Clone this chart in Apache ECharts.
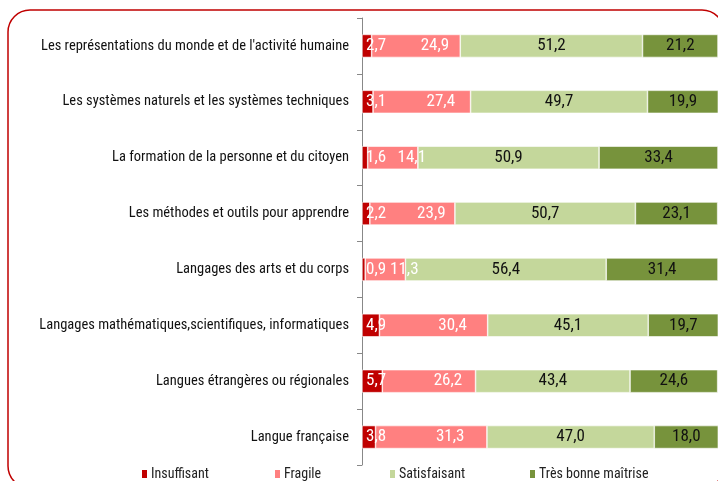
<!DOCTYPE html>
<html>
<head>
<meta charset="utf-8">
<script src="https://cdn.jsdelivr.net/npm/echarts@6/dist/echarts.min.js"></script>
<style>
  html, body { margin: 0; padding: 0; background: #fff; }
  #chart { width: 718px; height: 481px; }
</style>
</head>
<body>
<div id="chart"></div>
<script>
// categories, top to bottom
const categories = [
  "Les représentations du monde et de l'activité humaine",
  'Les systèmes naturels et les systèmes techniques',
  'La formation de la personne et du citoyen',
  'Les méthodes et outils pour apprendre',
  'Langages des arts et du corps',
  'Langages mathématiques,scientifiques, informatiques',
  'Langues étrangères ou régionales',
  'Langue française'
];

const insuffisant = [2.7, 3.1, 1.6, 2.2, 0.9, 4.9, 5.7, 3.8];
const fragile = [24.9, 27.4, 14.1, 23.9, 11.3, 30.4, 26.2, 31.3];
const satisfaisant = [51.2, 49.7, 50.9, 50.7, 56.4, 45.1, 43.4, 47.0];
const tresBonne = [21.2, 19.9, 33.4, 23.1, 31.4, 19.7, 24.6, 18.0];

const seriesNames = ['Insuffisant', 'Fragile', 'Satisfaisant', 'Très bonne maîtrise'];
const colors = ['#c00000', '#ff8080', '#c4d79b', '#77933c'];

const FONT = '"Roboto Condensed", "DejaVu Sans Condensed", sans-serif';
const fmt = p => p.value.toFixed(1).replace('.', ',');

const chart = echarts.init(document.getElementById('chart'));

function bar(name, data, color, label) {
  return {
    name, type: 'bar', stack: 'total', data,
    barWidth: 23,
    itemStyle: { color, borderColor: '#fff', borderWidth: 0.6 },
    label: Object.assign({
      show: true, formatter: fmt,
      fontFamily: FONT, fontSize: 17
    }, label)
  };
}

// one legend per item so the spacing matches the reference
const legendX = [140, 273, 388, 528];
const legends = seriesNames.map((n, i) => ({
  data: [n], left: legendX[i], top: 467,
  itemWidth: 7, itemHeight: 10, itemGap: 0,
  icon: 'rect', padding: 0,
  textStyle: { fontFamily: FONT, fontSize: 14, color: '#222', padding: [0, 0, 0, -2] }
}));

chart.setOption({
  animation: false,
  color: colors,
  legend: legends,
  grid: { left: 362, right: -10, top: 18, bottom: 16, containLabel: false },
  xAxis: {
    type: 'value', min: 0, max: 100,
    show: false
  },
  yAxis: {
    type: 'category', data: categories, inverse: true,
    axisLine: { lineStyle: { color: '#888', width: 1 } },
    axisTick: { show: true, length: 5, lineStyle: { color: '#888' } },
    axisLabel: { fontFamily: FONT, fontSize: 14.5, color: '#111', margin: 13 }
  },
  graphic: [{
    type: 'rect', silent: true, z: -1,
    shape: { x: 8, y: 10, width: 716, height: 478, r: 22 },
    style: { fill: 'none', stroke: '#c00000', lineWidth: 1.5 }
  }],
  series: [
    bar(seriesNames[0], insuffisant, colors[0], { position: 'insideLeft', distance: 4, color: '#fff' }),
    bar(seriesNames[1], fragile, colors[1], { position: 'inside', offset: [19, 0], color: '#fff' }),
    bar(seriesNames[2], satisfaisant, colors[2], { position: 'inside', color: '#111' }),
    bar(seriesNames[3], tresBonne, colors[3], { position: 'inside', color: '#111' })
  ]
});
</script>
</body>
</html>
